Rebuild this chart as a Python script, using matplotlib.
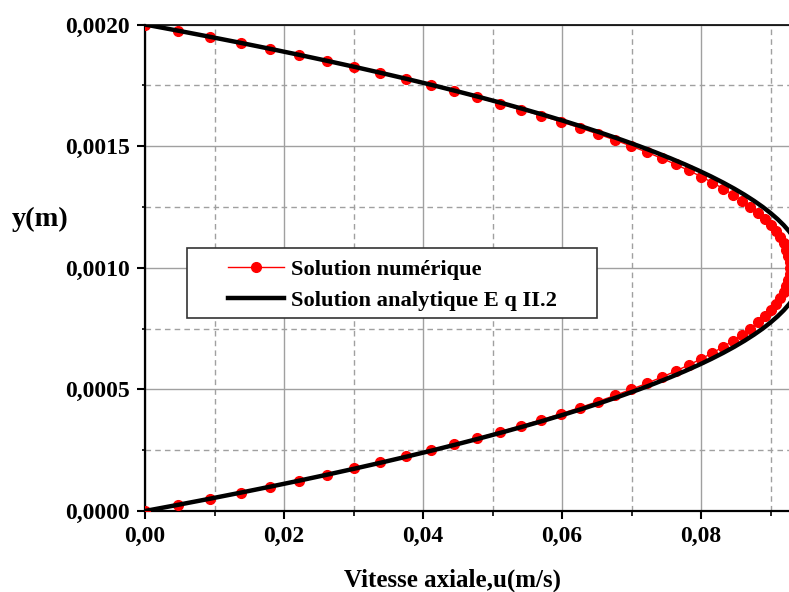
import matplotlib
matplotlib.use("Agg")
import matplotlib.pyplot as plt
from matplotlib.ticker import MultipleLocator, FuncFormatter
from matplotlib.patches import Rectangle

# ---- data ----
y_pos = [
    0.000000, 0.000025, 0.000050, 0.000075, 0.000100, 0.000125, 0.000150, 0.000175,
    0.000200, 0.000225, 0.000250, 0.000275, 0.000300, 0.000325, 0.000350, 0.000375,
    0.000400, 0.000425, 0.000450, 0.000475, 0.000500, 0.000525, 0.000550, 0.000575,
    0.000600, 0.000625, 0.000650, 0.000675, 0.000700, 0.000725, 0.000750, 0.000775,
    0.000800, 0.000825, 0.000850, 0.000875, 0.000900, 0.000925, 0.000950, 0.000975,
    0.001000, 0.001025, 0.001050, 0.001075, 0.001100, 0.001125, 0.001150, 0.001175,
    0.001200, 0.001225, 0.001250, 0.001275, 0.001300, 0.001325, 0.001350, 0.001375,
    0.001400, 0.001425, 0.001450, 0.001475, 0.001500, 0.001525, 0.001550, 0.001575,
    0.001600, 0.001625, 0.001650, 0.001675, 0.001700, 0.001725, 0.001750, 0.001775,
    0.001800, 0.001825, 0.001850, 0.001875, 0.001900, 0.001925, 0.001950, 0.001975,
    0.002000,
]

u_numerique = [
    0.00000, 0.00480, 0.00935, 0.01375, 0.01800, 0.02211, 0.02616, 0.03008,
    0.03387, 0.03754, 0.04110, 0.04452, 0.04783, 0.05102, 0.05408, 0.05703,
    0.05985, 0.06256, 0.06515, 0.06762, 0.06997, 0.07221, 0.07433, 0.07634,
    0.07822, 0.07999, 0.08165, 0.08319, 0.08461, 0.08592, 0.08712, 0.08820,
    0.08917, 0.09002, 0.09076, 0.09138, 0.09189, 0.09229, 0.09257, 0.09274,
    0.09280, 0.09274, 0.09257, 0.09229, 0.09189, 0.09138, 0.09076, 0.09002,
    0.08917, 0.08820, 0.08712, 0.08592, 0.08461, 0.08319, 0.08165, 0.07999,
    0.07822, 0.07634, 0.07433, 0.07221, 0.06997, 0.06762, 0.06515, 0.06256,
    0.05985, 0.05703, 0.05408, 0.05102, 0.04783, 0.04452, 0.04110, 0.03754,
    0.03387, 0.03008, 0.02616, 0.02211, 0.01800, 0.01375, 0.00935, 0.00480,
    0.00000,
]

u_analytique = [
    0.00000, 0.00468, 0.00924, 0.01369, 0.01801, 0.02222, 0.02631, 0.03028,
    0.03413, 0.03786, 0.04148, 0.04497, 0.04835, 0.05161, 0.05475, 0.05777,
    0.06067, 0.06346, 0.06612, 0.06867, 0.07110, 0.07341, 0.07560, 0.07768,
    0.07963, 0.08147, 0.08319, 0.08479, 0.08627, 0.08763, 0.08888, 0.09000,
    0.09101, 0.09190, 0.09267, 0.09332, 0.09385, 0.09427, 0.09456, 0.09474,
    0.09480, 0.09474, 0.09456, 0.09427, 0.09385, 0.09332, 0.09267, 0.09190,
    0.09101, 0.09000, 0.08888, 0.08763, 0.08627, 0.08479, 0.08319, 0.08147,
    0.07963, 0.07768, 0.07560, 0.07341, 0.07110, 0.06867, 0.06612, 0.06346,
    0.06067, 0.05777, 0.05475, 0.05161, 0.04835, 0.04497, 0.04148, 0.03786,
    0.03413, 0.03028, 0.02631, 0.02222, 0.01801, 0.01369, 0.00924, 0.00468,
    0.00000,
]

x_ticks = [0.00, 0.02, 0.04, 0.06, 0.08]
y_ticks = [0.0000, 0.0005, 0.0010, 0.0015, 0.0020]
label_num = "Solution numérique"
label_ana = "Solution analytique E q II.2"
xlabel = "Vitesse axiale,u(m/s)"
ylabel = "y(m)"

# ---- style ----
FONT = "Liberation Serif"
plt.rcParams["font.family"] = [FONT, "DejaVu Serif"]
plt.rcParams["font.weight"] = "bold"

fig = plt.figure(figsize=(7.89, 5.92), dpi=100)
ax = fig.add_axes([145 / 789, (592 - 511) / 592, 644 / 789, 486.5 / 592])

ax.plot(u_numerique, y_pos, color="#ff0000", lw=1.0, marker="o", ms=7.0,
        mec="#ff0000", mfc="#ff0000", zorder=3, label=label_num)
ax.plot(u_analytique, y_pos, color="black", lw=3.2, zorder=4, label=label_ana)

ax.set_xlim(0, 0.09266)
ax.set_ylim(0, 0.002)
ax.set_xticks(x_ticks)
ax.set_yticks(y_ticks)
ax.xaxis.set_minor_locator(MultipleLocator(0.01))
ax.yaxis.set_minor_locator(MultipleLocator(0.00025))
ax.xaxis.set_major_formatter(FuncFormatter(lambda v, p: f"{v:.2f}".replace(".", ",")))
ax.yaxis.set_major_formatter(FuncFormatter(lambda v, p: f"{v:.4f}".replace(".", ",")))

ax.grid(which="major", color="#a0a0a0", lw=1.0, ls="-", zorder=0)
ax.grid(which="minor", color="#a0a0a0", lw=1.0, ls=(0, (4, 3)), zorder=0)
ax.set_axisbelow(True)

for s in ("left", "bottom"):
    ax.spines[s].set_linewidth(1.6)
ax.spines["top"].set_linewidth(1.2)
ax.spines["right"].set_visible(False)

ax.tick_params(which="major", direction="out", length=6, width=1.5,
               labelsize=17, pad=5)
ax.tick_params(which="minor", direction="out", length=3.5, width=1.2)
ax.tick_params(axis="y", which="minor", length=2.5)
for lab in ax.get_xticklabels() + ax.get_yticklabels():
    lab.set_fontweight("bold")

fig.text(453 / 789, 1 - 580 / 592, xlabel, ha="center", va="center",
         fontsize=18, fontweight="bold")
fig.text(40 / 789, 1 - 219 / 592, ylabel, ha="center", va="center",
         fontsize=20.5, fontweight="bold")

# legend box + entries
rect = Rectangle(((187 - 145) / 644, (511 - 318) / 486.5), (597 - 187) / 644,
                 (318 - 248) / 486.5, transform=ax.transAxes, fill=True,
                 facecolor="white", edgecolor="#333333", lw=1.2, zorder=5)
ax.add_patch(rect)
leg = ax.legend(loc="upper left", bbox_to_anchor=((228 - 145) / 644, (511 - 259) / 486.5),
                frameon=False, borderpad=0, borderaxespad=0, handlelength=2.5,
                handletextpad=0.3, labelspacing=0.45,
                prop={"family": FONT, "weight": "bold", "size": 16.2})
leg.set_zorder(6)

fig.savefig("out.png", dpi=100)
